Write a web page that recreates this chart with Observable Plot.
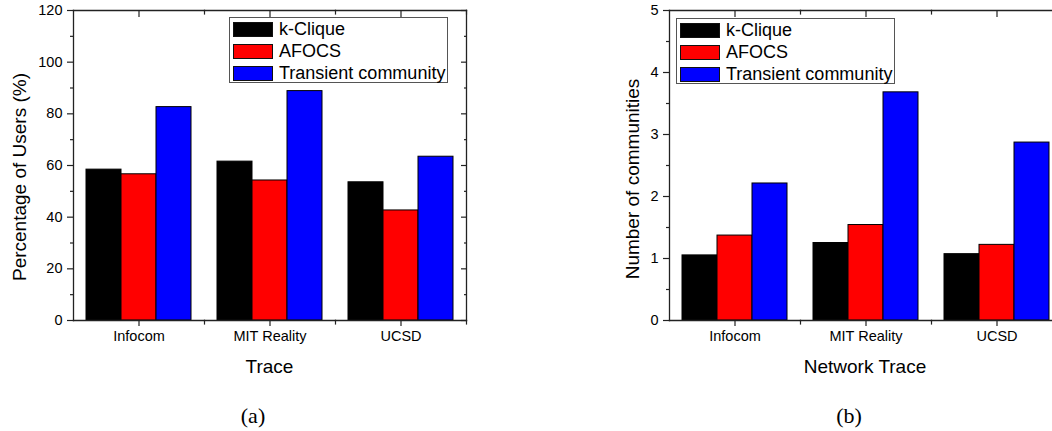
<!DOCTYPE html>
<html>
<head>
<meta charset="utf-8">
<script src="https://cdn.jsdelivr.net/npm/d3@7"></script>
<script src="https://cdn.jsdelivr.net/npm/@observablehq/plot@0.6"></script>
<style>
  html, body { margin: 0; padding: 0; background: #fff; }
  body { width: 1052px; height: 431px; position: relative; overflow: hidden; font-family: "Liberation Sans", Arial, sans-serif; color: #000; }
  .chart { position: absolute; top: 0; width: 520px; }
  .chart svg { max-width: none !important; }
  .lbl { position: absolute; white-space: nowrap; transform: translate(-50%, -50%); font-size: 19px; line-height: 1; }
  .lbl.rot { transform: translate(-50%, -50%) rotate(-90deg); }
  .cap { position: absolute; white-space: nowrap; transform: translate(-50%, -50%); font-family: "Liberation Serif", "Times New Roman", serif; font-size: 22px; line-height: 1; }
  .legend { position: absolute; border: 1px solid #555; background: #fff; box-sizing: border-box; }
  .legend .row { position: absolute; left: 3px; height: 16px; display: flex; align-items: center; }
  .legend .sw { width: 38px; height: 13px; border: 1.5px solid #111; }
  .legend .tx { margin-left: 6px; font-size: 18px; line-height: 1; }
</style>
</head>
<body>
<div id="chartA" class="chart" style="left:0px"></div>
<div id="chartB" class="chart" style="left:580px"></div>
<script>
// ---------- data ----------
const traces = ["Infocom", "MIT Reality", "UCSD"];
const methods = ["k-Clique", "AFOCS", "Transient community"];
const methodColors = ["#000000", "#ff0000", "#0000ff"];

// (a) Percentage of users (%)
const usersKClique = [58.4, 61.5, 53.5];
const usersAFOCS = [56.6, 54.2, 42.6];
const usersTransient = [82.6, 88.8, 63.4];
const usersTicks = [0, 20, 40, 60, 80, 100, 120];
const usersMinorTicks = [10, 30, 50, 70, 90, 110];

// (b) Number of communities
const commKClique = [1.05, 1.25, 1.07];
const commAFOCS = [1.37, 1.54, 1.22];
const commTransient = [2.21, 3.68, 2.87];
const commTicks = [0, 1, 2, 3, 4, 5];
const commMinorTicks = [0.5, 1.5, 2.5, 3.5, 4.5];

function rowsFrom(series) {
  const rows = [];
  traces.forEach((t, i) => {
    methods.forEach((m, j) => rows.push({trace: t, method: m, value: series[j][i]}));
  });
  return rows;
}

const FRAME = "#222";

function makeChart({rows, yDomain, ticks, minor, marginLeft, marginRight, width}) {
  const height = 380, marginTop = 10, marginBottom = 60;
  const plotH = height - marginTop - marginBottom;
  return Plot.plot({
    width, height, marginLeft, marginRight, marginTop, marginBottom,
    style: {fontFamily: '"Liberation Sans", Arial, sans-serif', fontSize: "14.5px", color: "#000", background: "transparent", overflow: "visible", maxWidth: "none"},
    fx: {domain: traces, padding: 0, axis: null, label: null},
    x: {domain: methods, paddingInner: 0, paddingOuter: 0.371, axis: null, label: null},
    y: {domain: yDomain, axis: null, label: null},
    color: {domain: methods, range: methodColors},
    marks: [
      Plot.barY(rows, {fx: "trace", x: "method", y: "value", fill: "method", stroke: "#000", strokeWidth: 1}),
      // frame lines
      Plot.frame({anchor: "bottom", stroke: FRAME, strokeWidth: 1.3}),
      Plot.frame({anchor: "top", stroke: FRAME, strokeWidth: 1.3}),
      Plot.frame({anchor: "left", facetAnchor: "left", stroke: FRAME, strokeWidth: 1.3}),
      Plot.frame({anchor: "right", facetAnchor: "right", stroke: FRAME, strokeWidth: 1.3}),
      // minor ticks at category boundaries (bottom outward, top inward)
      Plot.frame({anchor: "right", insetTop: plotH, insetBottom: -3.5, stroke: FRAME, strokeWidth: 1.2}),
      Plot.frame({anchor: "right", insetTop: 0, insetBottom: plotH - 3.5, stroke: FRAME, strokeWidth: 1.2}),
      // y axes
      Plot.axisY(ticks, {anchor: "left", tickSize: 6, tickPadding: 5, tickFormat: (d) => String(d), stroke: FRAME, strokeWidth: 1.2, label: null}),
      Plot.axisY(minor, {anchor: "left", tickSize: 3, fill: "none", stroke: FRAME, strokeWidth: 1.2, label: null}),
      Plot.axisY(ticks, {anchor: "right", tickSize: -6, fill: "none", stroke: FRAME, strokeWidth: 1.2, label: null}),
      Plot.axisY(minor, {anchor: "right", tickSize: -3, fill: "none", stroke: FRAME, strokeWidth: 1.2, label: null}),
      // fx axes
      Plot.axisFx({anchor: "bottom", tickSize: 6, tickPadding: 4, stroke: FRAME, strokeWidth: 1.2, label: null}),
      Plot.axisFx({anchor: "top", tickSize: -6, fill: "none", stroke: FRAME, strokeWidth: 1.2, label: null})
    ]
  });
}

const chartA = makeChart({
  rows: rowsFrom([usersKClique, usersAFOCS, usersTransient]),
  yDomain: [0, 120], ticks: usersTicks, minor: usersMinorTicks,
  width: 520, marginLeft: 73, marginRight: 54
});
document.getElementById("chartA").appendChild(chartA);

const chartB = makeChart({
  rows: rowsFrom([commKClique, commAFOCS, commTransient]),
  yDomain: [0, 5], ticks: commTicks, minor: commMinorTicks,
  width: 520, marginLeft: 89, marginRight: 38
});
document.getElementById("chartB").appendChild(chartB);

// ---------- titles, legends, captions ----------
function addLabel(text, x, y, cls) {
  const d = document.createElement("div");
  d.className = cls;
  d.style.left = x + "px";
  d.style.top = y + "px";
  d.textContent = text;
  document.body.appendChild(d);
}
addLabel("Percentage of Users (%)", 19, 177, "lbl rot");
addLabel("Trace", 269.5, 366, "lbl");
addLabel("(a)", 253, 416, "cap");
addLabel("Number of communities", 631.5, 179, "lbl rot");
addLabel("Network Trace", 865, 366, "lbl");
addLabel("(b)", 849, 416, "cap");

function addLegend(left, top, width, height) {
  const box = document.createElement("div");
  box.className = "legend";
  Object.assign(box.style, {left: left + "px", top: top + "px", width: width + "px", height: height + "px"});
  methods.forEach((m, i) => {
    const r = document.createElement("div");
    r.className = "row";
    r.style.top = (3 + i * 22) + "px";
    const sw = document.createElement("div");
    sw.className = "sw";
    sw.style.background = methodColors[i];
    const tx = document.createElement("span");
    tx.className = "tx";
    tx.textContent = m;
    r.appendChild(sw); r.appendChild(tx);
    box.appendChild(r);
  });
  document.body.appendChild(box);
}
addLegend(229, 17, 219, 66);
addLegend(676, 18, 219, 66);
</script>
</body>
</html>
